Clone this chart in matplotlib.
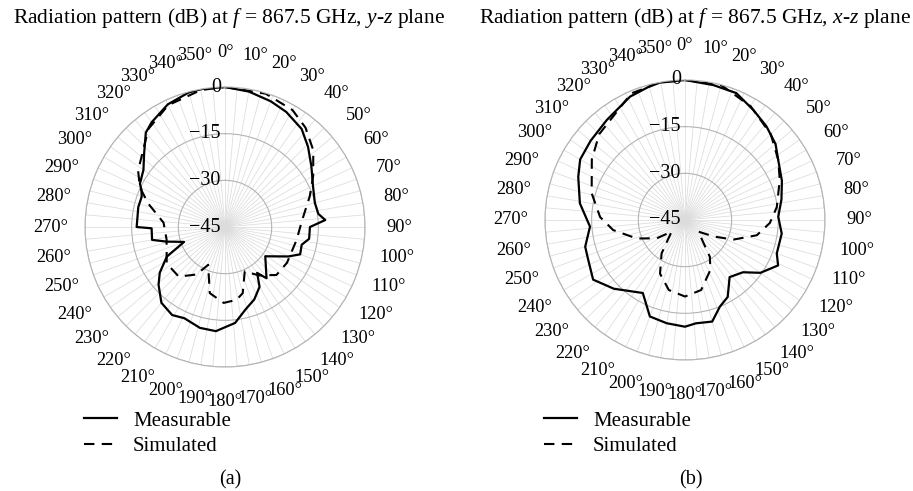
import numpy as np
import matplotlib
matplotlib.use("Agg")
import matplotlib.pyplot as plt

plt.rcParams['font.family'] = ['Liberation Serif', 'DejaVu Serif']
plt.rcParams['mathtext.fontset'] = 'custom'
plt.rcParams['mathtext.rm'] = 'Liberation Serif'
plt.rcParams['mathtext.it'] = 'Liberation Serif:italic'

# y-z plane (a)
yz_meas_deg = [0, 10, 20, 28, 38, 46, 55, 65, 75, 82, 86, 90, 98, 103, 110, 115, 126, 141,
               145, 150, 158, 166, 174, 185, 194, 204, 211, 220, 229, 235, 243, 250, 256,
               260, 269, 270, 283, 290, 294, 297, 305, 312, 320, 325, 335, 345, 351, 360]
yz_meas_db = [0, -0.8, -2.0, -3.1, -5.0, -7.9, -11.1, -13.8, -15.1, -14.7, -12.7, -17.7, -17.7,
              -19.7, -19.3, -22.6, -29.0, -23.8, -27.0, -22.8, -19.9, -17.7, -14.0, -11.4, -11.6,
              -12.9, -12.0, -13.2, -16.7, -19.4, -24.0, -31.0, -25.6, -21.2, -21.4, -16.6, -16.4,
              -16.5, -15.6, -14.3, -13.0, -10.0, -5.4, -3.9, -1.5, -0.2, 0, 0]
yz_sim_deg = [0, 17, 30, 39, 49, 60, 70, 86, 100, 120, 133, 145, 156, 165, 171, 181, 193, 204,
              211, 223, 238, 258, 274, 287, 295, 303, 322, 335, 350, 360]
yz_sim_db = [0, -0.2, -1.6, -3.9, -7.4, -12.3, -16.0, -20.3, -21.6, -22.0, -22.4, -26.0, -29.4,
             -23.0, -21.3, -20.6, -23.2, -31.7, -27.2, -23.2, -22.9, -25.8, -25.2, -19.2, -14.8,
             -11.7, -5.0, -1.8, -0.3, 0]

# x-z plane (b)
xz_meas_deg = [0, 12, 22, 32, 41, 50, 57, 68, 78, 88, 98, 110, 116, 125, 132, 142, 151, 158,
               165, 174, 180, 190, 200, 210, 226, 237, 248, 255, 266, 279, 292, 300, 310, 322,
               336, 348, 360]
xz_meas_db = [0, -0.7, -1.0, -3.4, -5.1, -7.0, -9.3, -11.4, -13.3, -15.0, -13.6, -13.6, -11.7,
              -15.4, -19.9, -21.7, -16.7, -15.0, -11.2, -11.6, -10.7, -11.3, -12.0, -17.9, -13.2,
              -9.8, -11.4, -11.8, -14.4, -10.8, -8.0, -6.1, -5.4, -4.2, -1.6, 0, 0]
xz_sim_deg = [0, 15, 30, 45, 57, 67, 82, 92, 102, 112, 120, 131, 146, 153, 167, 180, 193, 205,
              215, 229, 237, 249, 262, 272, 286, 303, 315, 337, 350, 360]
xz_sim_db = [0, -0.1, -2.8, -6.0, -9.3, -11.9, -15.2, -17.7, -21.4, -28.2, -34.4, -39.3, -30.7,
             -27.0, -21.9, -20.4, -21.9, -26.0, -31.9, -39.3, -34.2, -28.4, -21.7, -17.7, -13.8,
             -9.3, -6.0, -0.8, -0.1, 0]

r_ticks = [-45, -30, -15, 0]
titles = ["Radiation pattern (dB) at $f$ = 867.5 GHz, $y$-$z$ plane",
          "Radiation pattern (dB) at $f$ = 867.5 GHz, $x$-$z$ plane"]
captions = ["(a)", "(b)"]

fig = plt.figure(figsize=(9.13, 4.91), dpi=100)

panels = [
    (yz_meas_deg, yz_meas_db, yz_sim_deg, yz_sim_db, [0.0931, 0.2525, 0.3067, 0.5703], 0.004),
    (xz_meas_deg, xz_meas_db, xz_sim_deg, xz_sim_db, [0.5969, 0.2668, 0.3067, 0.5703], 0.011),
]

for i, (md, mv, sd, sv, rect, tshift) in enumerate(panels):
    ax = fig.add_axes(rect, projection='polar')
    ax.set_theta_zero_location('N')
    ax.set_theta_direction(-1)
    ax.set_ylim(-45, 0)

    ticks = np.arange(0, 360, 5)
    labels = [f"{t}°" if t % 10 == 0 else "" for t in ticks]
    ax.set_xticks(np.deg2rad(ticks))
    ax.set_xticklabels(labels, fontsize=13.2)
    ax.tick_params(axis='x', pad=14)
    ax.set_yticks(r_ticks)
    ax.set_yticklabels([])
    ax.xaxis.grid(True, color='#dcdcdc', lw=0.55)
    ax.yaxis.grid(True, color='#b4b4b4', lw=0.8)
    ax.spines['polar'].set_color('#b4b4b4')
    ax.spines['polar'].set_linewidth(0.8)

    for r in r_ticks:
        ax.annotate("\u2212" + str(abs(r)) if r else "0", xy=(0, r), xytext=(-3, 0),
                    textcoords='offset points', ha='right', va='center', fontsize=14.5)

    ax.plot(np.deg2rad(md), mv, color='black', lw=1.6, label='Measurable')
    ax.plot(np.deg2rad(sd), sv, color='black', lw=1.5, ls=(0, (5, 3.5)), label='Simulated')

    cx = rect[0] + rect[2] / 2
    fig.text(cx + tshift, 0.963, titles[i], ha='center', va='center', fontsize=15.5)
    fig.text(cx + 0.006, 0.022, captions[i], ha='center', va='center', fontsize=14.5)
    ax.legend(loc='upper left', bbox_to_anchor=(rect[0] - 0.001, 0.163),
              bbox_transform=fig.transFigure, frameon=False, fontsize=15,
              handlelength=1.6, handletextpad=0.75, borderpad=0, borderaxespad=0,
              labelspacing=0.28)

fig.savefig("out.png", dpi=100)
